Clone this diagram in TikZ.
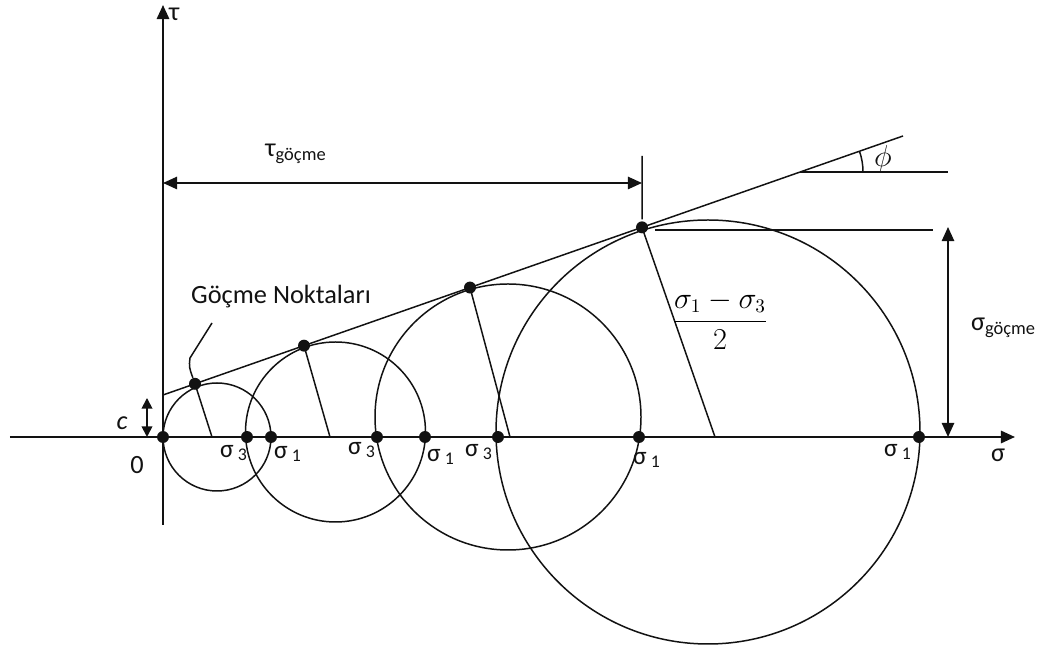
\documentclass[tikz,border=0pt]{standalone}
\usepackage{amsmath}
\usepackage{fontspec}
\setmainfont{Carlito}
\usepackage{tikz}
\usetikzlibrary{calc,arrows.meta,positioning}
\definecolor{mohrInk}{RGB}{18,18,18}
\tikzset{
  axisline/.style={mohrInk, line width=1.2pt, -{Triangle[length=8pt,width=7pt]}},
  thinline/.style={mohrInk, line width=0.85pt},
  dimarrow/.style={mohrInk, line width=1pt, {Triangle[length=8pt,width=7pt]}-{Triangle[length=8pt,width=7pt]}},
  smalldim/.style={mohrInk, line width=1pt, {Triangle[length=6pt,width=6pt]}-{Triangle[length=6pt,width=6pt]}},
  mohrdot/.style={circle, fill=mohrInk, inner sep=0pt, minimum size=6.8pt},
  axlabel/.style={text=mohrInk, font=\fontsize{15}{18}\selectfont, inner sep=1pt},
  siglabel/.style={text=mohrInk, font=\fontsize{14.5}{16}\selectfont, inner sep=1pt}
}

\begin{document}
\begin{tikzpicture}[x=0.02cm,y=0.02cm]
\useasboundingbox (-163,-214) rectangle (884,437);

\coordinate (sigW) at (-153,0);
\coordinate (sigE) at (852,0);
\coordinate (tauS) at (0,-88);
\coordinate (tauN) at (0,432);
\draw[axisline] (sigW) -- (sigE);
\draw[axisline] (tauS) -- (tauN);
\node[axlabel, anchor=west] (tau) at (4,423) {τ};
\node[axlabel] (sig) at (835,-18) {σ};
\node[axlabel] (zero) at (-26,-28) {0};

\draw[thinline] (54,0) circle[radius=54];
\draw[thinline] (172.5,5) circle[radius=90];
\draw[thinline] (345,20) circle[radius=133];
\draw[thinline] (545,5) circle[radius=212];

\foreach \n/\x in {o/0,a/84,b/108,c/214,d/262,e/335,f/476,g/756}
  \node[mohrdot] (p\n) at (\x,0) {};
\foreach \i/\x/\y/\k in {1/71/-16/3,2/125/-17/1,3/199/-13/3,4/278/-20/1,5/316/-15/3,6/484/-23/1,7/735/-15/1}
  \node[siglabel] (s\i) at (\x,\y) {σ\,\textsubscript{\k}};

\coordinate (cInt) at (0,42);
\coordinate (lineEnd) at (740,301);
\draw[thinline] (cInt) -- (lineEnd);
\foreach \i/\x/\m in {1/32/49,2/141/167,3/307/347,4/479/552} {
  \node[mohrdot] (t\i) at ($(cInt)!{\x/740}!(lineEnd)$) {};
  \coordinate (m\i) at (\m,0);
  \draw[thinline] (t\i.center) -- (m\i);
}

\coordinate (cTop) at (-16,39);
\coordinate (cBot) at (-16,0);
\draw[smalldim] (cBot) -- (cTop);
\node[axlabel] (cLabel) at (-41,14) {\textit{c}};

\node[axlabel] (gocme) at (118,140) {Göçme Noktaları};
\coordinate (leadTop) at (49,114);
\coordinate (leadBend) at (27,79);
\draw[thinline] (leadTop) -- (leadBend) .. controls (26,70) .. (t1);

\coordinate (phiA) at (637,265);
\coordinate (phiB) at (785,265);
\draw[thinline] (phiA) -- (phiB);
\draw[thinline] ($(phiA)+(63,0)$) arc[start angle=0,end angle={atan(259/740)},radius=63];
\node[axlabel, font=\fontsize{16}{18}\selectfont] (phi) at (720,278) {$\phi$};

\coordinate (tgL) at (0,254);
\coordinate (tgR) at (479,254);
\coordinate (tickTop) at (479,281);
\draw[dimarrow] (tgL) -- (tgR);
\draw[thinline] (tickTop) -- ($(t4)+(0,8)$);
\node[axlabel] (tauG) at (133,283) {τ\textsubscript{göçme}};

\coordinate (sgTop) at (785,210);
\coordinate (sgBot) at (785,0);
\coordinate (helpL) at (492,207);
\coordinate (helpR) at (770,207);
\draw[dimarrow] (sgTop) -- (sgBot);
\draw[mohrInk, line width=0.6pt] (helpL) -- (helpR);
\node[axlabel, anchor=west] (sigG) at (806,109) {σ\textsubscript{göçme}};

\node[font=\fontsize{16}{18}\selectfont] (radius) at (557,117) {$\dfrac{\sigma_1-\sigma_3}{2}$};
\end{tikzpicture}
\end{document}
